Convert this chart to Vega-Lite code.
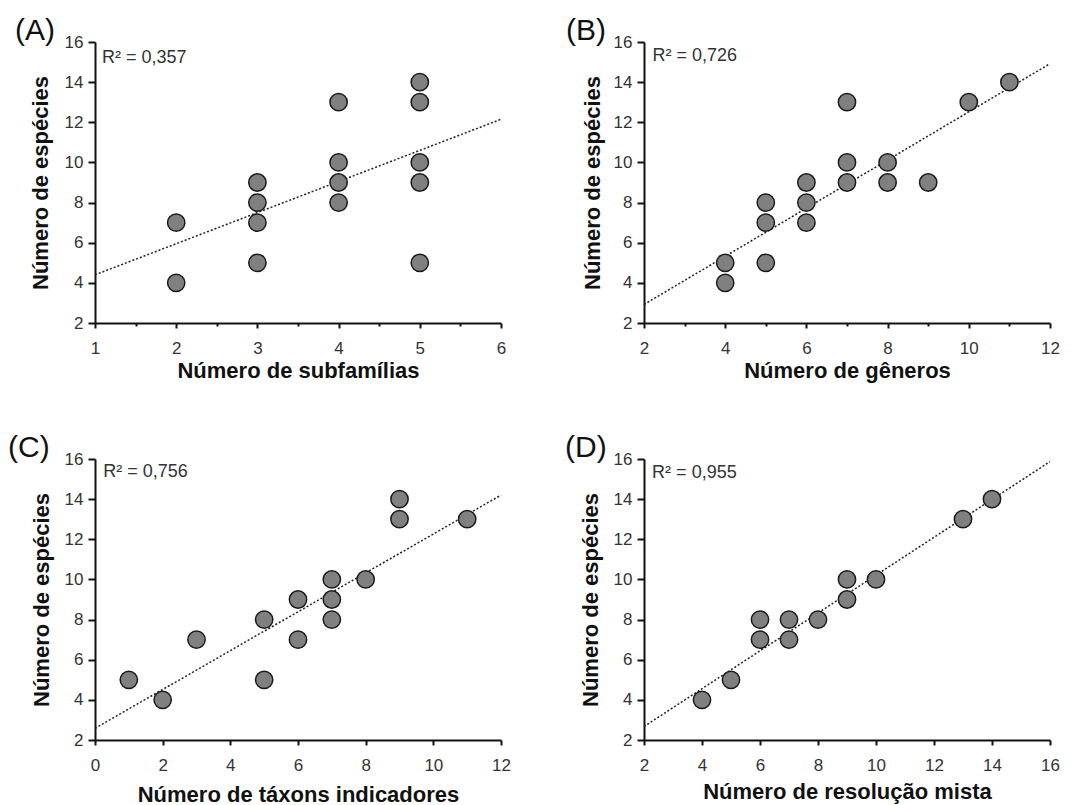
{
  "$schema": "https://vega.github.io/schema/vega-lite/v6.json",
  "background": "white",
  "padding": {"left": 8, "top": 16, "right": 5, "bottom": 2},
  "config": {
    "view": {"stroke": null},
    "font": "Liberation Sans",
    "axis": {
      "grid": false,
      "domainColor": "#111111",
      "domainWidth": 2,
      "tickColor": "#111111",
      "tickWidth": 2,
      "labelFont": "Liberation Sans",
      "labelFontSize": 17,
      "labelColor": "#333333",
      "titleFont": "Liberation Sans",
      "titleFontSize": 22,
      "titleFontWeight": "bold",
      "titleColor": "#111111"
    },
    "axisX": {"labelPadding": 12, "labelFlush": false, "labelOverlap": false, "format": "d"},
    "axisY": {"labelPadding": 5, "tickSize": 7, "titlePadding": 11, "labelOverlap": false},
    "title": {"anchor": "start", "frame": "group", "fontSize": 30, "fontWeight": "normal", "font": "Liberation Sans", "color": "#111111", "offset": 0, "baseline": "alphabetic", "dy": 17}
  },
  "datasets": {
    "A": [
      {"x": 2, "y": 7}, {"x": 2, "y": 4},
      {"x": 3, "y": 9}, {"x": 3, "y": 8}, {"x": 3, "y": 7}, {"x": 3, "y": 5},
      {"x": 4, "y": 13}, {"x": 4, "y": 10}, {"x": 4, "y": 9}, {"x": 4, "y": 8},
      {"x": 5, "y": 14}, {"x": 5, "y": 13}, {"x": 5, "y": 10}, {"x": 5, "y": 9}, {"x": 5, "y": 5}
    ],
    "A_line": [{"x": 1, "y": 4.4}, {"x": 6, "y": 12.15}],
    "A_text": [{"x": 1.086, "y": 14.95, "label": "R² = 0,357"}],
    "B": [
      {"x": 4, "y": 5}, {"x": 4, "y": 4},
      {"x": 5, "y": 8}, {"x": 5, "y": 7}, {"x": 5, "y": 5},
      {"x": 6, "y": 9}, {"x": 6, "y": 8}, {"x": 6, "y": 7},
      {"x": 7, "y": 13}, {"x": 7, "y": 10}, {"x": 7, "y": 9},
      {"x": 8, "y": 10}, {"x": 8, "y": 9},
      {"x": 9, "y": 9}, {"x": 10, "y": 13}, {"x": 11, "y": 14}
    ],
    "B_line": [{"x": 2, "y": 2.92}, {"x": 12, "y": 14.92}],
    "B_text": [{"x": 2.21, "y": 15.03, "label": "R² = 0,726"}],
    "C": [
      {"x": 1, "y": 5}, {"x": 2, "y": 4}, {"x": 3, "y": 7},
      {"x": 5, "y": 8}, {"x": 5, "y": 5},
      {"x": 6, "y": 9}, {"x": 6, "y": 7},
      {"x": 7, "y": 10}, {"x": 7, "y": 9}, {"x": 7, "y": 8},
      {"x": 8, "y": 10}, {"x": 9, "y": 14}, {"x": 9, "y": 13}, {"x": 11, "y": 13}
    ],
    "C_line": [{"x": 0, "y": 2.58}, {"x": 12, "y": 14.2}],
    "C_text": [{"x": 0.245, "y": 15.1, "label": "R² = 0,756"}],
    "D": [
      {"x": 4, "y": 4}, {"x": 5, "y": 5},
      {"x": 6, "y": 8}, {"x": 6, "y": 7},
      {"x": 7, "y": 8}, {"x": 7, "y": 7},
      {"x": 8, "y": 8}, {"x": 9, "y": 10}, {"x": 9, "y": 9},
      {"x": 10, "y": 10}, {"x": 13, "y": 13}, {"x": 14, "y": 14}
    ],
    "D_line": [{"x": 2, "y": 2.67}, {"x": 16, "y": 15.87}],
    "D_text": [{"x": 2.28, "y": 15.05, "label": "R² = 0,955"}]
  },
  "columns": 2,
  "spacing": {"row": 136, "column": 143},
  "bounds": "flush",
  "concat": [
    {
      "width": 406, "height": 281,
      "title": {"text": "(A)", "dx": -80},
      "layer": [
        {"data": {"name": "A_line"}, "mark": {"type": "line", "color": "#222222", "strokeWidth": 1.5, "strokeDash": [2, 2]},
         "encoding": {
           "x": {"field": "x", "type": "quantitative", "scale": {"domain": [1, 6], "nice": false, "zero": false},
                 "axis": {"title": "Número de subfamílias", "titlePadding": 4, "values": [1, 1.5, 2, 2.5, 3, 3.5, 4, 4.5, 5, 5.5, 6],
                          "labelExpr": "datum.value % 1 == 0 ? datum.label : ''",
                          "tickSize": {"condition": {"test": "datum.value % 1 != 0", "value": 3}, "value": 5}}},
           "y": {"field": "y", "type": "quantitative", "scale": {"domain": [2, 16], "nice": false, "zero": false},
                 "axis": {"title": "Número de espécies", "values": [2, 4, 6, 8, 10, 12, 14, 16], "titlePadding": 12}}
         }},
        {"data": {"name": "A"}, "mark": {"type": "circle", "size": 300, "fill": "#808080", "stroke": "#1a1a1a", "strokeWidth": 1.5, "opacity": 1},
         "encoding": {"x": {"field": "x", "type": "quantitative"}, "y": {"field": "y", "type": "quantitative"}}},
        {"data": {"name": "A_text"}, "mark": {"type": "text", "align": "left", "baseline": "alphabetic", "fontSize": 18, "color": "#333333", "font": "Liberation Sans"},
         "encoding": {"x": {"field": "x", "type": "quantitative"}, "y": {"field": "y", "type": "quantitative"}, "text": {"field": "label"}}}
      ]
    },
    {
      "width": 406, "height": 281,
      "title": {"text": "(B)", "dx": -78},
      "layer": [
        {"data": {"name": "B_line"}, "mark": {"type": "line", "color": "#222222", "strokeWidth": 1.5, "strokeDash": [2, 2]},
         "encoding": {
           "x": {"field": "x", "type": "quantitative", "scale": {"domain": [2, 12], "nice": false, "zero": false},
                 "axis": {"title": "Número de gêneros", "titlePadding": 4, "values": [2, 3, 4, 5, 6, 7, 8, 9, 10, 11, 12],
                          "labelExpr": "datum.value % 2 == 0 ? datum.label : ''",
                          "tickSize": {"condition": {"test": "datum.value % 2 != 0", "value": 3}, "value": 5}}},
           "y": {"field": "y", "type": "quantitative", "scale": {"domain": [2, 16], "nice": false, "zero": false},
                 "axis": {"title": "Número de espécies", "values": [2, 4, 6, 8, 10, 12, 14, 16], "titlePadding": 9}}
         }},
        {"data": {"name": "B"}, "mark": {"type": "circle", "size": 300, "fill": "#808080", "stroke": "#1a1a1a", "strokeWidth": 1.5, "opacity": 1},
         "encoding": {"x": {"field": "x", "type": "quantitative"}, "y": {"field": "y", "type": "quantitative"}}},
        {"data": {"name": "B_text"}, "mark": {"type": "text", "align": "left", "baseline": "alphabetic", "fontSize": 18, "color": "#333333", "font": "Liberation Sans"},
         "encoding": {"x": {"field": "x", "type": "quantitative"}, "y": {"field": "y", "type": "quantitative"}, "text": {"field": "label"}}}
      ]
    },
    {
      "width": 406, "height": 281,
      "title": {"text": "(C)", "dx": -87},
      "layer": [
        {"data": {"name": "C_line"}, "mark": {"type": "line", "color": "#222222", "strokeWidth": 1.5, "strokeDash": [2, 2]},
         "encoding": {
           "x": {"field": "x", "type": "quantitative", "scale": {"domain": [0, 12], "nice": false, "zero": false},
                 "axis": {"title": "Número de táxons indicadores", "titlePadding": 11, "values": [0, 1, 2, 3, 4, 5, 6, 7, 8, 9, 10, 11, 12],
                          "labelExpr": "datum.value % 2 == 0 ? datum.label : ''",
                          "tickSize": {"condition": {"test": "datum.value % 2 != 0", "value": 3}, "value": 5}}},
           "y": {"field": "y", "type": "quantitative", "scale": {"domain": [2, 16], "nice": false, "zero": false},
                 "axis": {"title": "Número de espécies", "values": [2, 4, 6, 8, 10, 12, 14, 16], "titlePadding": 11}}
         }},
        {"data": {"name": "C"}, "mark": {"type": "circle", "size": 300, "fill": "#808080", "stroke": "#1a1a1a", "strokeWidth": 1.5, "opacity": 1},
         "encoding": {"x": {"field": "x", "type": "quantitative"}, "y": {"field": "y", "type": "quantitative"}}},
        {"data": {"name": "C_text"}, "mark": {"type": "text", "align": "left", "baseline": "alphabetic", "fontSize": 18, "color": "#333333", "font": "Liberation Sans"},
         "encoding": {"x": {"field": "x", "type": "quantitative"}, "y": {"field": "y", "type": "quantitative"}, "text": {"field": "label"}}}
      ]
    },
    {
      "width": 406, "height": 281,
      "title": {"text": "(D)", "dx": -79},
      "layer": [
        {"data": {"name": "D_line"}, "mark": {"type": "line", "color": "#222222", "strokeWidth": 1.5, "strokeDash": [2, 2]},
         "encoding": {
           "x": {"field": "x", "type": "quantitative", "scale": {"domain": [2, 16], "nice": false, "zero": false},
                 "axis": {"title": "Número de resolução mista", "titlePadding": 8, "values": [2, 3, 4, 5, 6, 7, 8, 9, 10, 11, 12, 13, 14, 15, 16],
                          "labelExpr": "datum.value % 2 == 0 ? datum.label : ''",
                          "tickSize": {"condition": {"test": "datum.value % 2 != 0", "value": 3}, "value": 5}}},
           "y": {"field": "y", "type": "quantitative", "scale": {"domain": [2, 16], "nice": false, "zero": false},
                 "axis": {"title": "Número de espécies", "values": [2, 4, 6, 8, 10, 12, 14, 16], "titlePadding": 11}}
         }},
        {"data": {"name": "D"}, "mark": {"type": "circle", "size": 300, "fill": "#808080", "stroke": "#1a1a1a", "strokeWidth": 1.5, "opacity": 1},
         "encoding": {"x": {"field": "x", "type": "quantitative"}, "y": {"field": "y", "type": "quantitative"}}},
        {"data": {"name": "D_text"}, "mark": {"type": "text", "align": "left", "baseline": "alphabetic", "fontSize": 18, "color": "#333333", "font": "Liberation Sans"},
         "encoding": {"x": {"field": "x", "type": "quantitative"}, "y": {"field": "y", "type": "quantitative"}, "text": {"field": "label"}}}
      ]
    }
  ]
}
